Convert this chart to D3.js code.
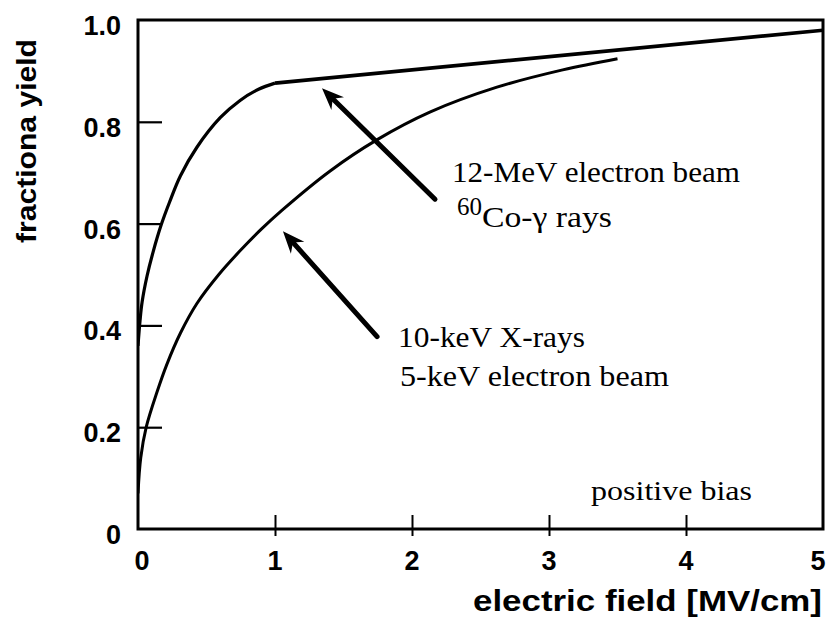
<!DOCTYPE html>
<html>
<head>
<meta charset="utf-8">
<script src="https://cdn.jsdelivr.net/npm/d3@7"></script>
<style>
  html, body { margin: 0; padding: 0; background: #fff; }
  svg { display: block; }
  .sans { font-family: "Liberation Sans", Arial, Helvetica, sans-serif; font-weight: bold; }
  .serif { font-family: "Liberation Serif", "Times New Roman", serif; }
</style>
</head>
<body>
<svg id="chart" width="831" height="622"></svg>
<script>
// Fractional yield vs. electric field (positive bias)
const xTicks = [0, 1, 2, 3, 4, 5];
const yTicks = [0, 0.2, 0.4, 0.6, 0.8, 1.0];
const yTickLabels = ["0", "0.2", "0.4", "0.6", "0.8", "1.0"];

// 12-MeV electron beam / 60Co-gamma rays (curved rise up to 1 MV/cm, straight beyond)
const highField = [0, 0.015, 0.03, 0.066, 0.11, 0.17, 0.23, 0.31, 0.43, 0.6, 0.745, 0.88, 1.0, 5.0];
const highYield = [0.36, 0.41, 0.446, 0.497, 0.544, 0.598, 0.642, 0.694, 0.750, 0.808, 0.842, 0.864, 0.876, 0.98];

// 10-keV X-rays / 5-keV electron beam
const lowField = [0, 0.02, 0.06, 0.14, 0.21, 0.31, 0.43, 0.59, 0.75, 0.9, 1.05, 1.4, 1.74, 2.13, 2.62, 3.1, 3.5];
const lowYield = [0.07, 0.14, 0.20, 0.27, 0.323, 0.385, 0.443, 0.50, 0.548, 0.589, 0.626, 0.703, 0.764, 0.819, 0.868, 0.902, 0.924];

const svg = d3.select("#chart");
const W = 831, H = 622;
const margin = { left: 138, right: 8, top: 20, bottom: 93 };

const x = d3.scaleLinear().domain([0, 5]).range([margin.left, W - margin.right]);
const y = d3.scaleLinear().domain([0, 1]).range([H - margin.bottom, margin.top]);

svg.append("rect").attr("width", W).attr("height", H).attr("fill", "#fff");

// ticks (drawn inside the frame)
const yAxis = d3.axisRight(y).tickValues(yTicks.slice(1, 5)).tickSize(24).tickFormat("");
const gy = svg.append("g").attr("transform", `translate(${x(0)},0)`).call(yAxis);
gy.select(".domain").remove();
gy.selectAll("line").attr("stroke", "#000").attr("stroke-width", 2.2);

const xAxis = d3.axisTop(x).tickValues(xTicks.slice(1, 5)).tickSize(14).tickFormat("");
const gx = svg.append("g").attr("transform", `translate(0,${y(0)})`).call(xAxis);
gx.select(".domain").remove();
gx.selectAll("line").attr("stroke", "#000").attr("stroke-width", 2).attr("y2", -14).attr("y1", 7);

// frame
svg.append("rect")
  .attr("x", x(0)).attr("y", y(1))
  .attr("width", x(5) - x(0)).attr("height", y(0) - y(1))
  .attr("fill", "none").attr("stroke", "#000").attr("stroke-width", 3);

// tick labels
svg.append("g").selectAll("text").data(yTicks).join("text")
  .attr("class", "sans")
  .attr("x", 121).attr("y", d => y(d) + 15)
  .attr("text-anchor", "end").attr("font-size", 27)
  .text((d, i) => yTickLabels[i]);

svg.append("g").selectAll("text").data(xTicks).join("text")
  .attr("class", "sans")
  .attr("x", (d, i) => x(d) + (i === 0 ? 4 : i === 5 ? -5 : 0)).attr("y", 570)
  .attr("text-anchor", "middle").attr("font-size", 27)
  .text(d => d);

// axis titles
svg.append("text").attr("class", "sans")
  .attr("x", 473).attr("y", 611).attr("font-size", 29)
  .attr("textLength", 349).attr("lengthAdjust", "spacingAndGlyphs")
  .text("electric field [MV/cm]");

svg.append("text").attr("class", "sans")
  .attr("transform", "translate(36,243) rotate(-90)")
  .attr("font-size", 27)
  .attr("textLength", 204).attr("lengthAdjust", "spacingAndGlyphs")
  .text("fractiona yield");

// curves
const smooth = d3.line().x(d => x(d[0])).y(d => y(d[1])).curve(d3.curveCatmullRom.alpha(0.5));
const straight = d3.line().x(d => x(d[0])).y(d => y(d[1]));
svg.append("clipPath").attr("id", "plot")
  .append("rect").attr("x", x(0)).attr("y", y(1) - 4).attr("width", x(5) - x(0) + 2).attr("height", y(0) - y(1) + 4);

const high = highField.map((v, i) => [v, highYield[i]]);
const low = lowField.map((v, i) => [v, lowYield[i]]);

const curves = svg.append("g").attr("clip-path", "url(#plot)")
  .attr("fill", "none").attr("stroke", "#000").attr("stroke-linejoin", "round");
curves.append("path").attr("d", smooth(high.filter(d => d[0] <= 1))).attr("stroke-width", 3.2);
curves.append("path").attr("d", straight(high.filter(d => d[0] >= 1))).attr("stroke-width", 3.6);
curves.append("path").attr("d", smooth(low)).attr("stroke-width", 3);

// pointer arrows (tail -> tip, in data units)
const arrows = [
  { from: [2.168, 0.648], to: [1.343, 0.866] },
  { from: [1.745, 0.378], to: [1.058, 0.585] }
];
arrows.forEach(a => {
  const x1 = x(a.from[0]), y1 = y(a.from[1]), x2 = x(a.to[0]), y2 = y(a.to[1]);
  const ang = Math.atan2(y2 - y1, x2 - x1);
  const ux = Math.cos(ang), uy = Math.sin(ang), px = -uy, py = ux;
  const headLen = 22, headW = 9, notch = 15;
  svg.append("line")
    .attr("x1", x1).attr("y1", y1)
    .attr("x2", x2 - ux * notch).attr("y2", y2 - uy * notch)
    .attr("stroke", "#000").attr("stroke-width", 5).attr("stroke-linecap", "round");
  const pts = [
    [x2, y2],
    [x2 - ux * headLen + px * headW, y2 - uy * headLen + py * headW],
    [x2 - ux * notch, y2 - uy * notch],
    [x2 - ux * headLen - px * headW, y2 - uy * headLen - py * headW]
  ];
  svg.append("polygon").attr("points", pts.map(p => p.join(",")).join(" ")).attr("fill", "#000");
});

// annotations
const notes = [
  { t: "12-MeV electron beam", at: [2.292, 0.681], size: 29, len: 288 },
  { t: "Co-\u03b3 rays", at: [2.511, 0.594], size: 29, len: 130 },
  { t: "60", at: [2.328, 0.617], size: 25, len: 25 },
  { t: "10-keV X-rays", at: [1.898, 0.358], size: 29, len: 187 },
  { t: "5-keV electron beam", at: [1.912, 0.281], size: 29, len: 269 },
  { t: "positive bias", at: [3.307, 0.057], size: 27, len: 161 }
];
svg.append("g").selectAll("text").data(notes).join("text")
  .attr("class", "serif")
  .attr("x", d => x(d.at[0])).attr("y", d => y(d.at[1]))
  .attr("font-size", d => d.size)
  .attr("textLength", d => d.len).attr("lengthAdjust", "spacingAndGlyphs")
  .text(d => d.t);
</script>
</body>
</html>
